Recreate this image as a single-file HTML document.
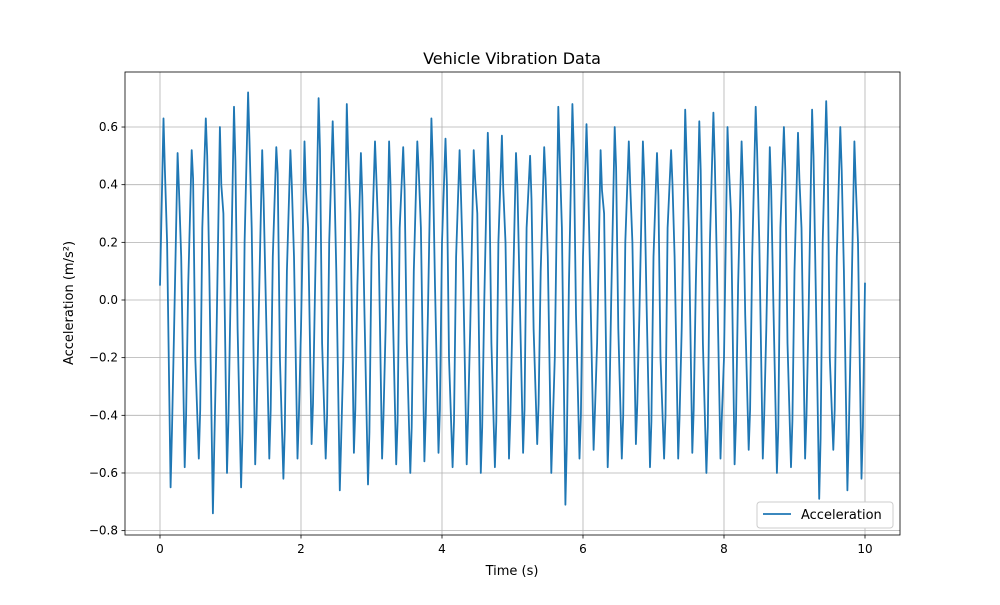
<!DOCTYPE html>
<html><head><meta charset="utf-8"><style>
body{margin:0;background:#fff;font-family:"Liberation Sans","DejaVu Sans",sans-serif}
svg text{font-family:"DejaVu Sans","Liberation Sans",sans-serif;fill:#000}
</style></head><body>
<svg id="chart" width="1000" height="600" viewBox="0 0 1000 600" xmlns="http://www.w3.org/2000/svg">
<rect width="1000" height="600" fill="#fff"/>
<g id="grid"></g>
<g id="ticks"></g>
<path id="line" fill="none" stroke="#1f77b4" stroke-width="1.8" stroke-linejoin="round"/>
<rect x="125" y="72" width="775" height="463" fill="none" stroke="#000" stroke-width="0.8"/>
<text x="512" y="64" font-size="16" text-anchor="middle">Vehicle Vibration Data</text>
<text x="512" y="575" font-size="13" text-anchor="middle">Time (s)</text>
<text transform="translate(73,303) rotate(-90)" font-size="13" text-anchor="middle">Acceleration (m/s²)</text>
<g>
<rect x="757" y="502" width="136" height="26" rx="3" fill="#fff" stroke="#ccc"/>
<line x1="763" y1="514" x2="791" y2="514" stroke="#1f77b4" stroke-width="1.8"/>
<text x="801" y="519" font-size="13">Acceleration</text>
</g>
</svg>
<script>
const peaks=[0.63,0.51,0.52,0.63,0.60,0.67,0.72,0.52,0.53,0.52,
0.55,0.70,0.62,0.68,0.51,0.55,0.55,0.53,0.55,0.63,
0.56,0.52,0.52,0.58,0.57,0.51,0.50,0.53,0.67,0.68,
0.61,0.52,0.60,0.55,0.55,0.51,0.52,0.66,0.62,0.65,
0.60,0.55,0.67,0.53,0.60,0.58,0.66,0.69,0.60,0.55];
const hiJags=[0.45,0.38,0.42,0.50,0.40,0.48,0.55,0.35,0.44,0.40,
0.38,0.52,0.45,0.50,0.36,0.42,0.40,0.38,0.45,0.48,
0.40,0.36,0.42,0.44,0.38,0.40,0.35,0.42,0.50,0.52,
0.45,0.38,0.46,0.40,0.42,0.36,0.40,0.50,0.45,0.48,
0.46,0.40,0.52,0.38,0.45,0.42,0.50,0.52,0.45,0.40];
const troughs=[-0.65,-0.58,-0.55,-0.74,-0.60,-0.65,-0.57,-0.55,-0.62,-0.55,
-0.50,-0.55,-0.66,-0.53,-0.64,-0.55,-0.57,-0.60,-0.56,-0.53,
-0.58,-0.57,-0.60,-0.58,-0.55,-0.53,-0.50,-0.60,-0.71,-0.55,
-0.52,-0.58,-0.55,-0.50,-0.58,-0.55,-0.55,-0.53,-0.60,-0.55,
-0.57,-0.52,-0.55,-0.60,-0.58,-0.55,-0.69,-0.52,-0.66,-0.62];
const loJags=[-0.45,-0.40,-0.38,-0.50,-0.42,-0.46,-0.40,-0.38,-0.45,-0.40,
-0.36,-0.40,-0.48,-0.38,-0.46,-0.40,-0.42,-0.44,-0.40,-0.38,
-0.42,-0.40,-0.44,-0.42,-0.40,-0.38,-0.36,-0.44,-0.50,-0.40,
-0.38,-0.42,-0.40,-0.36,-0.42,-0.40,-0.40,-0.38,-0.44,-0.40,
-0.42,-0.38,-0.40,-0.44,-0.42,-0.40,-0.48,-0.38,-0.46,-0.44];
const mids=[0.05,
0.20,-0.10,0.15,0.05,-0.20,0.25,0.10,-0.15,0.30,0.00,-0.10,0.20,0.25,-0.05,0.00,0.15,-0.20,0.10,0.15,-0.10,
0.25,0.05,-0.15,0.20,0.10,-0.20,0.30,0.05,-0.05,0.15,0.20,-0.10,0.00,0.25,-0.15,0.10,0.25,-0.05,0.05,0.20,
-0.20,0.15,0.10,-0.10,0.30,0.00,-0.15,0.20,0.20,-0.05,0.05,0.25,-0.10,0.10,0.15,-0.20,0.25,0.05,-0.05,0.15,
0.10,-0.15,0.30,0.00,-0.10,0.20,0.20,-0.05,0.00,0.15,-0.20,0.25,0.15,-0.10,0.25,0.05,-0.15,0.20,0.10,-0.20,
0.30,0.05,-0.05,0.15,0.20,-0.10,0.00,0.25,-0.15,0.10,0.25,-0.05,0.05,0.20,-0.20,0.15,0.10,-0.10,0.20,0.06];
const xTicks=[0,2,4,6,8,10];
const yTicks=[-0.8,-0.6,-0.4,-0.2,0.0,0.2,0.4,0.6];
const period=0.2;
const X=t=>160+t*70.5;
const Y=v=>300-v*288.3;
const ns='http://www.w3.org/2000/svg';
const grid=document.getElementById('grid'),ticks=document.getElementById('ticks');
function mk(tag,attrs,parent){const e=document.createElementNS(ns,tag);for(const k in attrs)e.setAttribute(k,attrs[k]);parent.appendChild(e);return e;}
xTicks.forEach(t=>{
const g=mk('line',{x1:X(t),x2:X(t),y1:72,y2:535,stroke:'#b0b0b0','stroke-width':0.8},grid);


mk('line',{x1:X(t),x2:X(t),y1:535,y2:538.5,stroke:'#000','stroke-width':0.8},ticks);
const l=mk('text',{x:X(t),y:553,'font-size':12,'text-anchor':'middle'},ticks);
l.textContent=String(t);


});
yTicks.forEach(v=>{
const g=mk('line',{x1:125,x2:900,y1:Y(v),y2:Y(v),stroke:'#b0b0b0','stroke-width':0.8},grid);


mk('line',{x1:121.5,x2:125,y1:Y(v),y2:Y(v),stroke:'#000','stroke-width':0.8},ticks);
const l=mk('text',{x:118,y:Y(v)+4,'font-size':12,'text-anchor':'end'},ticks);
l.textContent=(v<0?'\u22120':'0')+'.'+Math.round(Math.abs(v)*10);


});
const pts=[[0,mids[0]]];
for(let k=0;k<peaks.length;k++){
const t0=period*k;
pts.push([t0+0.05,peaks[k]]);
pts.push([t0+0.07,hiJags[k]]);
pts.push([t0+0.10,mids[2*k+1]]);
pts.push([t0+0.15,troughs[k]]);
pts.push([t0+0.17,loJags[k]]);
pts.push([t0+0.20,mids[2*k+2]]);
}
document.getElementById('line').setAttribute('d',pts.map((p,i)=>(i?'L':'M')+X(p[0]).toFixed(1)+' '+Y(p[1]).toFixed(1)).join(' '));
</script>
</body></html>
